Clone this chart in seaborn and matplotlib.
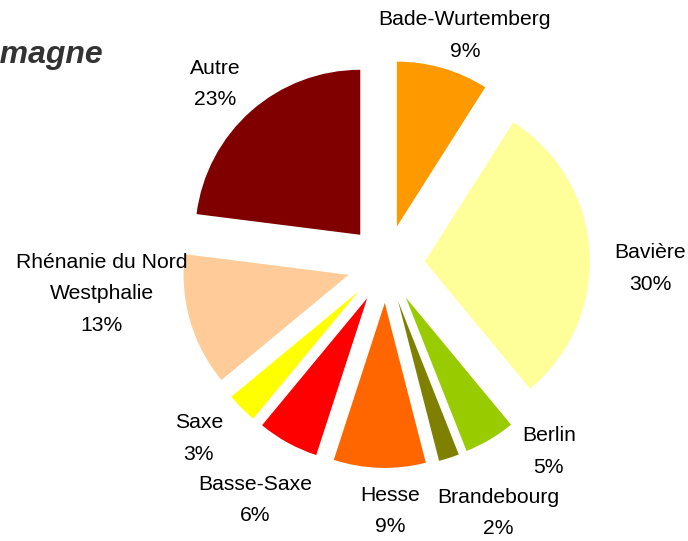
import matplotlib
matplotlib.use("Agg")
import matplotlib.pyplot as plt
import seaborn as sns
import numpy as np

regions = ["Bade-Wurtemberg", "Bavière", "Berlin", "Brandebourg", "Hesse",
           "Basse-Saxe", "Saxe", "Rhénanie du Nord\nWestphalie", "Autre"]
shares = [9, 30, 5, 2, 9, 6, 3, 13, 23]
colors = ["#FF9900", "#FFFF99", "#99CC00", "#808000", "#FF6600",
          "#FF0000", "#FFFF00", "#FFCC99", "#800000"]
title = "Allemagne"

# label placement around the pie centre (angle clockwise from top, distance in radii)
label_angle = [19, 91, 139, 155.8, 179, 209, 227, 264, 316.5]
label_dist = [1.467, 1.60, 1.503, 1.655, 1.497, 1.636, 1.552, 1.733, 1.503]

sns.set_style("white")
plt.rcParams['font.family'] = ['Liberation Sans', 'DejaVu Sans']

W, H = 688, 541
cx, cy, rad = 386, 264, 165
fig = plt.figure(figsize=(W / 100, H / 100), dpi=100)
ax = fig.add_axes([0, 0, 1, 1])

wedges, texts = ax.pie(shares, colors=colors, startangle=90, counterclock=False,
                       explode=[0.236] * len(shares), labels=regions,
                       wedgeprops=dict(linewidth=0))
for t, lab, s, a, d in zip(texts, regions, shares, label_angle, label_dist):
    t.set_text(f"{lab}\n{s}%")
    t.set_position((d * np.sin(np.radians(a)), d * np.cos(np.radians(a))))
    t.set(ha="center", va="center", fontsize=15.2, linespacing=1.85, color="black")

ax.set_aspect("auto")
ax.set_xlim(-cx / rad, (W - cx) / rad)
ax.set_ylim(-(H - cy) / rad, cy / rad)
ax.axis("off")

fig.text(103 / W, 1 - 55 / H, title, ha="right", va="center", fontsize=23,
         fontweight="bold", fontstyle="italic", color="#333333")

fig.savefig("out.png", dpi=100)
